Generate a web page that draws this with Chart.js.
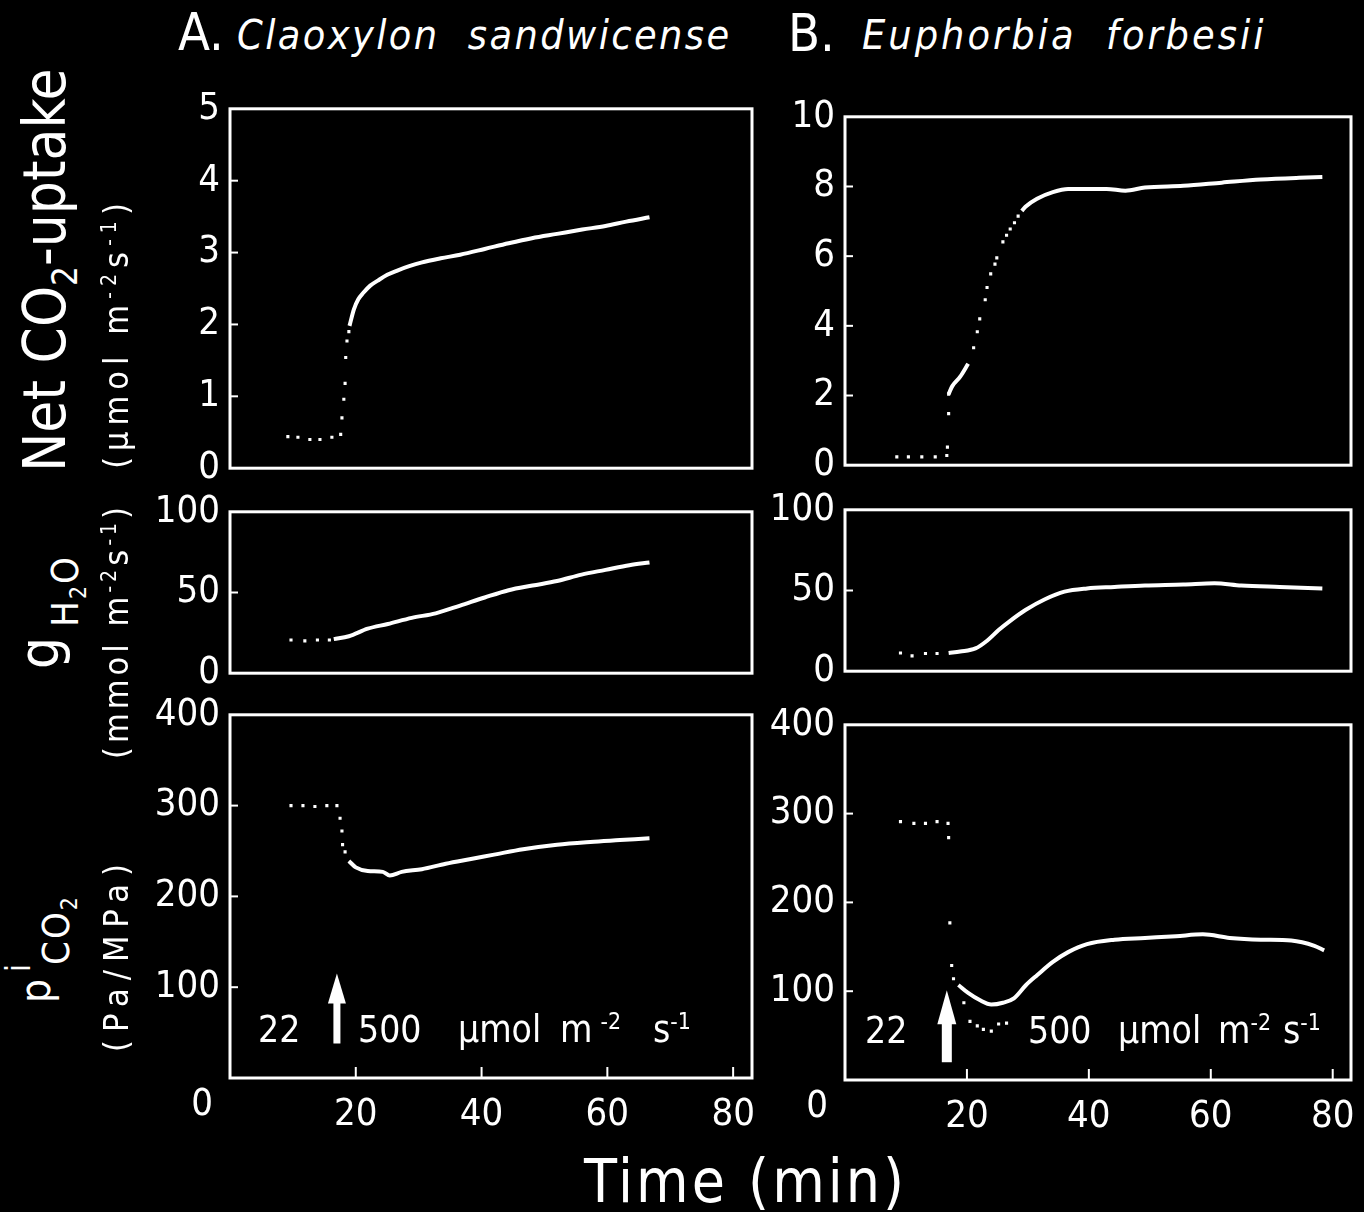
<!DOCTYPE html>
<html>
<head>
<meta charset="utf-8">
<script src="https://cdn.jsdelivr.net/npm/chart.js@4.4.0/dist/chart.umd.min.js"></script>
<style>
  body { margin: 0; background: #000; }
  #wrap { position: relative; width: 1364px; height: 1212px; background: #000; overflow: hidden;
          font-family: "DejaVu Sans Condensed", "DejaVu Sans", sans-serif; color: #fff; }
  .panel { position: absolute; }
  .txt { position: absolute; white-space: nowrap; line-height: 1; }
  .vert { position: absolute; white-space: nowrap; line-height: 1; transform: translate(-50%, -50%) rotate(-90deg); }
  .sub { font-size: 0.6em; position: relative; top: 0.35em; }
  .sup { font-size: 0.62em; position: relative; top: -0.55em; }
  .gap { margin-left: 8px; }
</style>
</head>
<body>
<div id="wrap">
  <!-- headers -->
  <div class="txt" style="left:178px;top:6px;font-size:52px;">A.</div>
  <div class="txt" style="left:237px;top:15px;font-size:41px;font-style:italic;letter-spacing:2.4px;">Claoxylon&nbsp; sandwicense</div>
  <div class="txt" style="left:788px;top:7px;font-size:52px;">B.</div>
  <div class="txt" style="left:862px;top:15px;font-size:41px;font-style:italic;letter-spacing:3px;">Euphorbia&nbsp; forbesii</div>

  <!-- y titles -->
  <div class="vert" style="left:45px;top:270px;font-size:58px;">Net CO<span class="sub">2</span>-uptake</div>
  <div class="vert" style="left:116px;top:333px;font-size:34px;letter-spacing:6px;">(µmol m<span class="sup">-2</span>s<span class="sup">-1</span>)</div>

  <div class="vert" style="left:39px;top:653px;font-size:56px;">g</div>
  <div class="vert" style="left:65px;top:591px;font-size:38px;letter-spacing:2px;">H<span class="sub">2</span>O</div>
  <div class="vert" style="left:116px;top:631px;font-size:34px;letter-spacing:4px;">(mmol m<span class="sup">-2</span>s<span class="sup">-1</span>)</div>

  <div class="vert" style="left:18px;top:968px;font-size:34px;">i</div>
  <div class="vert" style="left:36px;top:991px;font-size:42px;">p</div>
  <div class="vert" style="left:56px;top:930px;font-size:38px;letter-spacing:2px;">CO<span class="sub">2</span></div>
  <div class="vert" style="left:116px;top:954px;font-size:34px;letter-spacing:8px;">(Pa/MPa)</div>

  <!-- x title -->
  <div class="txt" style="left:584px;top:1151px;font-size:60px;letter-spacing:3px;">Time (min)</div>

  <!-- light step annotations -->
  <div class="txt" style="left:258px;top:1011px;font-size:37px;">22</div>
  <div class="txt" style="left:358px;top:1011px;font-size:37px;">500</div>
  <div class="txt" style="left:458px;top:1011px;font-size:37px;">µmol</div>
  <div class="txt" style="left:560px;top:1011px;font-size:37px;">m<span class="sup gap">-2</span></div>
  <div class="txt" style="left:653px;top:1011px;font-size:37px;">s<span class="sup">-1</span></div>

  <div class="txt" style="left:865px;top:1012px;font-size:37px;">22</div>
  <div class="txt" style="left:1028px;top:1012px;font-size:37px;">500</div>
  <div class="txt" style="left:1118px;top:1012px;font-size:37px;">µmol</div>
  <div class="txt" style="left:1218px;top:1012px;font-size:37px;">m<span class="sup">-2</span></div>
  <div class="txt" style="left:1283px;top:1012px;font-size:37px;">s<span class="sup">-1</span></div>
</div>

<script>
const WHITE = "#ffffff";
const FONT = '"DejaVu Sans Condensed", "DejaVu Sans", sans-serif';
const TIME_MAX = 83;

// tick labels
const xTicks = [20, 40, 60, 80];
const ticksCO2A = [0, 1, 2, 3, 4, 5];
const ticksCO2B = [0, 2, 4, 6, 8, 10];
const ticksG = [0, 50, 100];
const ticksP = [0, 100, 200, 300, 400];

// A. Claoxylon sandwicense -- net CO2 uptake
const tCO2A_dots = [9.2, 10.8, 12.7, 14.3, 16.2, 17.6, 17.8, 18.1, 18.3, 18.4, 18.6, 18.9];
const co2A_dots  = [0.44, 0.43, 0.40, 0.40, 0.43, 0.47, 0.70, 0.96, 1.18, 1.54, 1.77, 1.90];
const tCO2A = [19.0, 19.7, 20.4, 21.2, 22.3, 23.5, 25.0, 26.6, 28.5, 30.4, 33.5, 36.6, 40.5, 44.3, 48.0, 52.0, 56.0, 59.7, 63.0, 66.7];
const co2A  = [1.98, 2.21, 2.35, 2.44, 2.54, 2.61, 2.69, 2.75, 2.81, 2.86, 2.92, 2.97, 3.05, 3.13, 3.20, 3.26, 3.32, 3.37, 3.43, 3.49];

// A -- stomatal conductance
const tGA_dots = [9.7, 11.9, 13.9, 15.8];
const gA_dots  = [20.6, 20.0, 20.6, 20.6];
const tGA = [16.5, 18.9, 21.9, 25.1, 28.9, 32.7, 36.6, 40.5, 44.3, 48.1, 52.0, 55.9, 59.7, 63.5, 66.7];
const gA  = [21.1, 22.9, 27.6, 30.5, 34.3, 37.1, 41.9, 46.9, 51.4, 54.3, 57.1, 61.1, 64.0, 66.9, 68.6];

// A -- intercellular CO2
const tPA_dots = [9.7, 11.6, 13.5, 15.4, 17.0, 17.5, 17.8, 17.9, 18.3];
const pA_dots  = [300, 300, 299, 300, 300, 286, 272, 257, 249];
const tPA = [18.9, 20.0, 21.9, 24.3, 25.4, 27.3, 30.5, 34.3, 38.1, 42.0, 46.6, 52.0, 57.3, 62.0, 66.7];
const pA  = [239, 232, 228, 227, 223, 227, 230, 236, 241, 246, 252, 257, 260, 262, 264];

// B. Euphorbia forbesii -- net CO2 uptake
const tCO2B_dots = [8.5, 10.4, 12.6, 14.8, 16.7, 16.8, 17.0, 17.0];
const co2B_dots  = [0.24, 0.24, 0.24, 0.24, 0.28, 0.52, 1.48, 2.04];
const tCO2B_early = [17.0, 17.6, 18.9, 20.2];
const co2B_early  = [2.04, 2.27, 2.54, 2.91];
const tCO2B_rise = [21.1, 21.7, 22.1, 23.0, 23.3, 23.9, 24.6, 24.9, 25.9, 26.5, 27.1, 27.8, 28.4];
const co2B_rise  = [3.37, 3.83, 4.20, 4.75, 5.10, 5.49, 5.77, 5.95, 6.41, 6.60, 6.78, 6.96, 7.15];
const tCO2B = [29.0, 29.6, 31.5, 34.1, 36.6, 42.9, 46.0, 49.2, 55.5, 61.8, 68.2, 74.5, 78.3];
const co2B  = [7.30, 7.42, 7.65, 7.84, 7.93, 7.93, 7.88, 7.97, 8.02, 8.11, 8.20, 8.25, 8.27];

// B -- stomatal conductance
const tGB_dots = [9.1, 11.0, 13.2, 15.1];
const gB_dots  = [11.3, 9.5, 11.0, 11.0];
const tGB = [17.0, 18.9, 21.4, 23.3, 25.2, 27.1, 29.6, 32.8, 36.0, 39.7, 44.2, 49.2, 55.5, 60.6, 65.0, 71.3, 78.3];
const gB  = [11.3, 12.2, 14.1, 18.9, 25.5, 31.2, 37.9, 44.6, 49.3, 51.3, 52.2, 53.1, 53.7, 54.5, 53.1, 52.2, 51.3];

// B -- intercellular CO2
const tPB_dots = [9.1, 11.3, 13.2, 15.1, 16.9, 17.0, 17.2, 17.5, 17.8];
const pB_dots  = [291, 289, 289, 291, 289, 273, 177, 129, 114];
const tPB = [18.6, 20.2, 22.1, 24.0, 25.9, 27.7, 29.7, 31.5, 34.1, 36.6, 39.7, 44.2, 49.2, 54.3, 58.7, 63.1, 68.2, 73.2, 77.0, 78.6];
const pB  = [107, 98, 90, 85, 87, 92, 107, 118, 133, 144, 153, 158, 160, 162, 164, 160, 158, 157, 151, 146];
const tPB_low = [19.5, 20.5, 21.7, 22.7, 24.0, 25.2, 26.5];
const pB_low  = [87, 66, 61, 57, 55, 63, 64];

Chart.defaults.font.family = FONT;
Chart.defaults.color = WHITE;

function pts(xs, ys) {
  return xs.map((x, i) => ({ x: x, y: ys[i] }));
}

function dotSet(xs, ys) {
  return { data: pts(xs, ys), showLine: false, pointRadius: 2.2, pointStyle: "rect",
           pointBackgroundColor: WHITE, pointBorderWidth: 0 };
}

function lineSet(xs, ys) {
  return { data: pts(xs, ys), borderColor: WHITE, borderWidth: 4, pointRadius: 0,
           cubicInterpolationMode: "monotone" };
}

// box frame, inward ticks, origin label and the light-switch arrow
const framePlugin = {
  id: "frame",
  afterDraw(chart, args, opts) {
    const ctx = chart.ctx;
    const a = chart.chartArea;
    const xs = chart.scales.x;
    const ys = chart.scales.y;
    ctx.save();
    ctx.strokeStyle = WHITE;
    ctx.fillStyle = WHITE;
    ctx.lineWidth = 3;
    ctx.strokeRect(a.left, a.top, a.right - a.left, a.bottom - a.top);

    ctx.lineWidth = 2;
    ys.ticks.forEach(t => {
      const y = ys.getPixelForValue(t.value);
      if (y <= a.top + 3 || y >= a.bottom - 3) return;
      ctx.beginPath();
      ctx.moveTo(a.left, y);
      ctx.lineTo(a.left + 8, y);
      ctx.stroke();
    });

    if (opts.bottom) {
      xTicks.forEach(v => {
        const x = xs.getPixelForValue(v);
        ctx.beginPath();
        ctx.moveTo(x, a.bottom);
        ctx.lineTo(x, a.bottom - 11);
        ctx.stroke();
      });
      ctx.font = "38px " + FONT;
      ctx.textAlign = "center";
      ctx.textBaseline = "middle";
      ctx.fillText("0", a.left - 28, a.bottom + 27);
    }

    if (opts.arrow) {
      const ar = opts.arrow;
      const x = xs.getPixelForValue(ar.t);
      const yBase = ys.getPixelForValue(ar.from);
      const yTip = ys.getPixelForValue(ar.to);
      ctx.fillRect(x - ar.shaft / 2, yTip + ar.head - 2, ar.shaft, yBase - yTip - ar.head + 2);
      ctx.beginPath();
      ctx.moveTo(x, yTip);
      ctx.lineTo(x - ar.width / 2, yTip + ar.head);
      ctx.lineTo(x + ar.width / 2, yTip + ar.head);
      ctx.closePath();
      ctx.fill();
    }
    ctx.restore();
  }
};

function makePanel(box, yMax, yTicks, datasets, opts) {
  const yW = 100, padTop = 26, padRight = 34;
  const padBottom = opts.bottom ? 0 : 26;
  const xH = opts.bottom ? 72 : 0;

  const holder = document.createElement("div");
  holder.className = "panel";
  holder.style.left = (box.l - yW) + "px";
  holder.style.top = (box.t - padTop) + "px";
  holder.style.width = (box.r - box.l + yW + padRight) + "px";
  holder.style.height = (box.b - box.t + padTop + padBottom + xH) + "px";
  const canvas = document.createElement("canvas");
  holder.appendChild(canvas);
  document.getElementById("wrap").insertBefore(holder, document.getElementById("wrap").firstChild);

  new Chart(canvas, {
    type: "line",
    data: { datasets: datasets },
    options: {
      responsive: true,
      maintainAspectRatio: false,
      animation: false,
      layout: { padding: { left: 0, top: padTop, right: padRight, bottom: padBottom } },
      plugins: {
        legend: { display: false },
        tooltip: { enabled: false },
        frame: opts
      },
      scales: {
        x: {
          type: "linear",
          min: 0,
          max: TIME_MAX,
          display: !!opts.bottom,
          grid: { display: false, drawTicks: false },
          border: { display: false },
          afterBuildTicks: s => { s.ticks = xTicks.map(v => ({ value: v })); },
          afterFit: s => { s.height = xH; },
          ticks: { color: WHITE, font: { size: 38 }, padding: 14, maxRotation: 0 }
        },
        y: {
          min: 0,
          max: yMax,
          grid: { display: false, drawTicks: false },
          border: { display: false },
          afterBuildTicks: s => { s.ticks = yTicks.map(v => ({ value: v })); },
          afterFit: s => { s.width = yW; },
          ticks: {
            color: WHITE,
            font: { size: 38 },
            padding: 10,
            callback: v => (opts.bottom && v === 0) ? "" : String(v)
          }
        }
      }
    },
    plugins: [framePlugin]
  });
}

// A. Claoxylon sandwicense
makePanel({ l: 230, t: 102, r: 752, b: 475 }, 5, ticksCO2A,
  [dotSet(tCO2A_dots, co2A_dots), lineSet(tCO2A, co2A)], {});
makePanel({ l: 230, t: 505, r: 752, b: 680 }, 100, ticksG,
  [dotSet(tGA_dots, gA_dots), lineSet(tGA, gA)], {});
makePanel({ l: 230, t: 708, r: 752, b: 1078 }, 400, ticksP,
  [dotSet(tPA_dots, pA_dots), lineSet(tPA, pA)],
  { bottom: true, arrow: { t: 17.0, from: 38, to: 115, shaft: 7, width: 18, head: 30 } });

// B. Euphorbia forbesii
makePanel({ l: 845, t: 110, r: 1351, b: 472 }, 10, ticksCO2B,
  [dotSet(tCO2B_dots, co2B_dots), lineSet(tCO2B_early, co2B_early),
   dotSet(tCO2B_rise, co2B_rise), lineSet(tCO2B, co2B)], {});
makePanel({ l: 845, t: 503, r: 1351, b: 678 }, 100, ticksG,
  [dotSet(tGB_dots, gB_dots), lineSet(tGB, gB)], {});
makePanel({ l: 845, t: 718, r: 1351, b: 1080 }, 400, ticksP,
  [dotSet(tPB_dots, pB_dots), lineSet(tPB, pB), dotSet(tPB_low, pB_low)],
  { bottom: true, arrow: { t: 16.7, from: 20, to: 101, shaft: 10, width: 19, head: 34 } });
</script>
</body>
</html>
